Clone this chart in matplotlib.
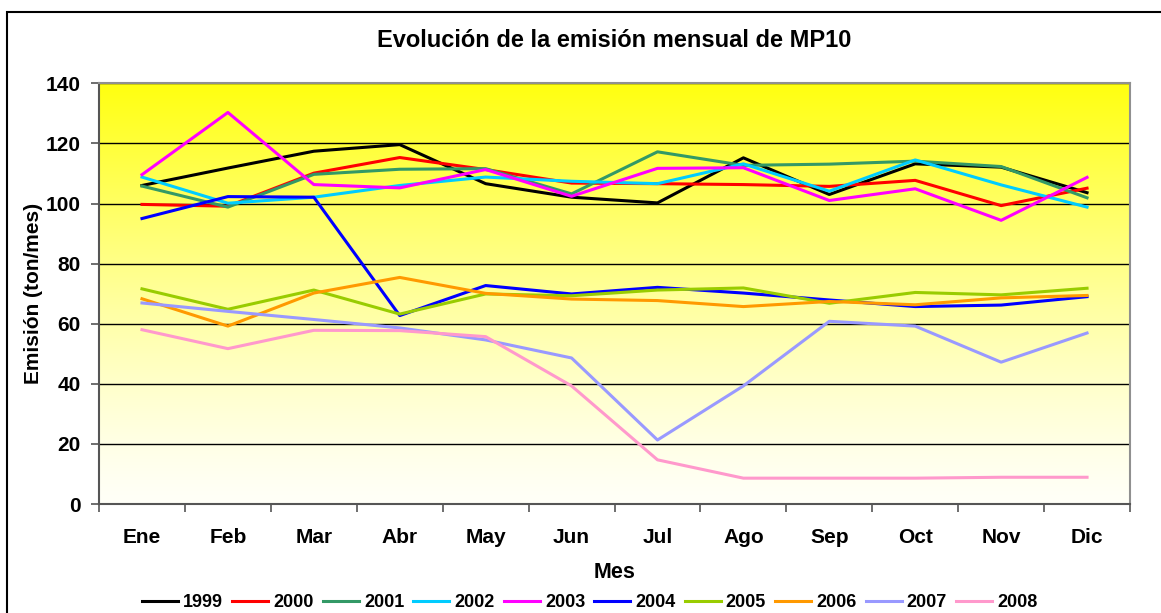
"""Evolución de la emisión mensual de MP10 (1999-2008)."""

import numpy as np
import matplotlib
matplotlib.use("Agg")
import matplotlib.pyplot as plt
from matplotlib.patches import Rectangle

months = ["Ene", "Feb", "Mar", "Abr", "May", "Jun",
          "Jul", "Ago", "Sep", "Oct", "Nov", "Dic"]
years = ["1999", "2000", "2001", "2002", "2003",
         "2004", "2005", "2006", "2007", "2008"]

e1999 = [106.0, 111.8, 117.4, 119.6, 106.6, 102.1, 100.2, 115.2, 103.0, 113.2, 112.1, 103.6]
e2000 = [99.7, 99.1, 110.1, 115.3, 111.3, 106.8, 106.6, 106.3, 105.7, 107.7, 99.3, 105.1]
e2001 = [105.8, 98.8, 109.7, 111.4, 111.6, 103.2, 117.2, 112.7, 113.1, 114.1, 112.3, 101.9]
e2002 = [108.8, 100.1, 102.1, 106.0, 108.8, 107.4, 106.6, 113.2, 104.1, 114.5, 106.2, 98.8]
e2003 = [109.6, 130.3, 106.3, 105.2, 111.3, 102.4, 111.7, 111.9, 101.0, 104.9, 94.4, 108.7]
e2004 = [95.0, 102.3, 102.1, 62.7, 72.7, 69.9, 72.1, 70.2, 67.9, 65.7, 66.2, 69.0]
e2005 = [71.6, 64.8, 71.2, 63.2, 69.9, 69.3, 71.2, 71.9, 66.8, 70.4, 69.6, 71.8]
e2006 = [68.3, 59.2, 70.2, 75.4, 70.1, 68.2, 67.7, 65.7, 67.4, 66.3, 68.6, 69.4]
e2007 = [66.9, 64.1, 61.4, 58.6, 54.6, 48.6, 21.3, 39.3, 60.8, 59.2, 47.2, 56.9]
e2008 = [58.0, 51.7, 57.8, 57.7, 55.7, 39.3, 14.7, 8.6, 8.6, 8.6, 8.9, 8.9]

series = [e1999, e2000, e2001, e2002, e2003, e2004, e2005, e2006, e2007, e2008]
colors = ["#000000", "#FF0000", "#339966", "#00CCFF", "#FF00FF",
          "#0000FF", "#99CC00", "#FF9900", "#9999FF", "#FF99CC"]

plt.rcParams["font.family"] = ["Liberation Sans", "DejaVu Sans"]
plt.rcParams["font.weight"] = "bold"

fig = plt.figure(figsize=(11.61, 6.13), dpi=100)
ax = fig.add_axes([0.0853, 0.1778, 0.8880, 0.6863])

# outer chart border (left and top edges visible)
fig.patches.append(Rectangle((7 / 1161, -0.1), 1.2, (613 - 12) / 613 + 0.1,
                             transform=fig.transFigure, fill=False,
                             edgecolor="black", linewidth=1.5))

# yellow gradient background, fading to near white at the bottom
grad = np.linspace(0, 1, 256) ** 1.3
top = np.array([1.0, 1.0, 0.06])
bot = np.array([1.0, 1.0, 0.97])
img = (bot + (top - bot) * grad[:, None])[:, None, :]
ax.imshow(img, extent=[-0.5, 11.5, 0, 140], origin="lower",
          aspect="auto", zorder=0)

x = np.arange(len(months))
for yr, vals, c in zip(years, series, colors):
    ax.plot(x, vals, color=c, linewidth=2.2, label=yr, zorder=3)

ax.set_xlim(-0.5, 11.5)
ax.set_ylim(0, 140)
ax.set_yticks(range(0, 141, 20))
ax.set_xticks(x)
ax.set_xticks(np.arange(-0.5, 12, 1), minor=True)
ax.set_xticklabels(months)
ax.tick_params(axis="x", which="major", length=0, pad=17, labelsize=15)
ax.tick_params(axis="x", which="minor", length=6, width=1.2, color="#555555")
ax.tick_params(axis="y", length=6, width=1.2, color="#555555", labelsize=15, pad=7)
ax.grid(axis="y", color="black", linewidth=1.0, zorder=1)
ax.set_axisbelow(True)

for side in ("left", "bottom"):
    ax.spines[side].set_color("#555555")
    ax.spines[side].set_linewidth(1.5)
for side in ("top", "right"):
    ax.spines[side].set_color("#909090")
    ax.spines[side].set_linewidth(1.5)

ax.set_title("Evolución de la emisión mensual de MP10", fontsize=17,
             fontweight="bold", pad=26)
ax.set_xlabel("Mes", fontsize=15.5, fontweight="bold", labelpad=11)
ax.set_ylabel("Emisión (ton/mes)", fontsize=15, fontweight="bold", labelpad=2)

fig.legend(loc="center", bbox_to_anchor=(0.508, 0.017), ncol=10, frameon=False,
           handlelength=2.0, handletextpad=0.28, columnspacing=0.5,
           prop={"weight": "bold", "size": 13})

fig.savefig("out.png", dpi=100)
